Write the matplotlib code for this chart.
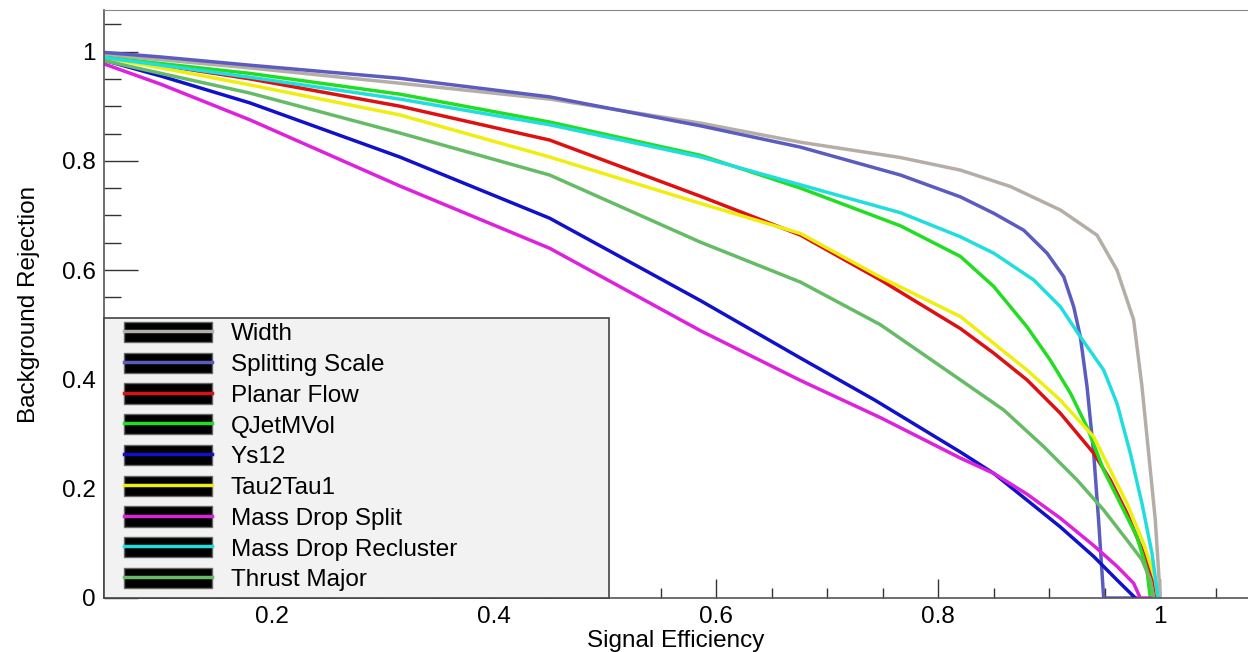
import matplotlib
matplotlib.use("Agg")
import matplotlib.pyplot as plt
from matplotlib.lines import Line2D
from matplotlib.patches import Rectangle
from matplotlib.ticker import MultipleLocator, FormatStrFormatter

plt.rcParams["font.family"] = ["Liberation Sans", "DejaVu Sans"]

# ROC curves: (signal efficiency, background rejection)
width_x = [0.045, 0.1, 0.18, 0.315, 0.45, 0.586, 0.676, 0.766, 0.82, 0.865, 0.91, 0.943, 0.961, 0.976, 0.9835, 0.9895, 0.9955, 1.0]
width_y = [0.995, 0.985, 0.970, 0.942, 0.913, 0.869, 0.834, 0.806, 0.783, 0.753, 0.710, 0.664, 0.600, 0.509, 0.387, 0.265, 0.143, 0.0]

split_x = [0.045, 0.1, 0.18, 0.315, 0.45, 0.586, 0.676, 0.766, 0.82, 0.85, 0.877, 0.898, 0.913, 0.922, 0.928, 0.934, 0.94, 0.9444, 0.949, 0.979]
split_y = [0.999, 0.99, 0.975, 0.951, 0.917, 0.864, 0.825, 0.774, 0.734, 0.704, 0.673, 0.631, 0.588, 0.533, 0.478, 0.387, 0.265, 0.143, 0.0, 0.0]

planar_x = [0.045, 0.1, 0.18, 0.315, 0.45, 0.586, 0.676, 0.748, 0.82, 0.85, 0.88, 0.91, 0.94, 0.955, 0.97, 0.985, 0.994, 0.997]
planar_y = [0.99, 0.975, 0.95, 0.90, 0.838, 0.735, 0.664, 0.582, 0.493, 0.448, 0.399, 0.338, 0.265, 0.216, 0.155, 0.082, 0.033, 0.0]

qjet_x = [0.045, 0.1, 0.18, 0.315, 0.45, 0.586, 0.676, 0.766, 0.82, 0.85, 0.88, 0.901, 0.919, 0.934, 0.949, 0.964, 0.979, 0.988, 0.991]
qjet_y = [0.99, 0.978, 0.96, 0.922, 0.871, 0.810, 0.750, 0.681, 0.625, 0.570, 0.496, 0.435, 0.375, 0.313, 0.234, 0.173, 0.112, 0.051, 0.0]

ys12_x = [0.045, 0.1, 0.18, 0.315, 0.45, 0.586, 0.676, 0.743, 0.82, 0.85, 0.88, 0.91, 0.94, 0.961, 0.9775]
ys12_y = [0.986, 0.955, 0.906, 0.807, 0.695, 0.544, 0.439, 0.362, 0.267, 0.228, 0.179, 0.130, 0.076, 0.033, 0.0]

tau_x = [0.045, 0.1, 0.18, 0.315, 0.45, 0.586, 0.676, 0.748, 0.82, 0.85, 0.88, 0.91, 0.94, 0.955, 0.97, 0.985, 0.9955, 0.998]
tau_y = [0.99, 0.97, 0.939, 0.884, 0.807, 0.722, 0.667, 0.587, 0.515, 0.466, 0.417, 0.362, 0.295, 0.234, 0.173, 0.100, 0.033, 0.0]

mds_x = [0.045, 0.1, 0.18, 0.315, 0.45, 0.586, 0.676, 0.748, 0.82, 0.85, 0.88, 0.91, 0.94, 0.961, 0.976, 0.982, 0.998]
mds_y = [0.98, 0.94, 0.875, 0.754, 0.640, 0.489, 0.398, 0.330, 0.256, 0.228, 0.190, 0.146, 0.096, 0.058, 0.027, 0.0, 0.0]

mdr_x = [0.045, 0.1, 0.18, 0.315, 0.45, 0.586, 0.676, 0.766, 0.82, 0.85, 0.886, 0.91, 0.928, 0.949, 0.961, 0.973, 0.9835, 0.9925, 0.998]
mdr_y = [0.99, 0.975, 0.953, 0.913, 0.866, 0.807, 0.756, 0.705, 0.661, 0.631, 0.582, 0.533, 0.478, 0.417, 0.356, 0.265, 0.173, 0.082, 0.0]

thrust_x = [0.045, 0.1, 0.18, 0.315, 0.45, 0.586, 0.676, 0.748, 0.82, 0.859, 0.895, 0.925, 0.949, 0.97, 0.9835, 0.991, 0.994]
thrust_y = [0.985, 0.96, 0.924, 0.851, 0.774, 0.651, 0.578, 0.50, 0.399, 0.344, 0.277, 0.216, 0.161, 0.106, 0.070, 0.033, 0.0]

names = ["Width", "Splitting Scale", "Planar Flow", "QJetMVol", "Ys12",
         "Tau2Tau1", "Mass Drop Split", "Mass Drop Recluster", "Thrust Major"]
colors = ["#b5aea6", "#5b5bc0", "#dd1111", "#22dd22", "#1111cc",
          "#eeee11", "#dd22dd", "#22dddd", "#66bb66"]
curves = [(width_x, width_y), (split_x, split_y), (planar_x, planar_y),
          (qjet_x, qjet_y), (ys12_x, ys12_y), (tau_x, tau_y),
          (mds_x, mds_y), (mdr_x, mdr_y), (thrust_x, thrust_y)]

fig = plt.figure(figsize=(12.48, 6.52), dpi=100)
ax = fig.add_axes([104 / 1248, 1 - 598 / 652, 1144 / 1248, 588 / 652])

for (xs, ys), c in zip(curves, colors):
    ax.plot(xs, ys, color=c, lw=2.5)

ax.set_xlim(0.0486, 1.079)
ax.set_ylim(0, 1.076)

ax.xaxis.set_major_locator(MultipleLocator(0.2))
ax.xaxis.set_minor_locator(MultipleLocator(0.05))
ax.yaxis.set_major_locator(MultipleLocator(0.2))
ax.yaxis.set_minor_locator(MultipleLocator(0.05))
ax.xaxis.set_major_formatter(FormatStrFormatter("%g"))
ax.yaxis.set_major_formatter(FormatStrFormatter("%g"))

ax.tick_params(axis="both", which="both", direction="in", labelsize=17.5, pad=6,
               color="#333333", top=False, right=False)
ax.tick_params(axis="x", which="major", length=14, width=1)
ax.tick_params(axis="x", which="minor", length=7, width=1)
ax.tick_params(axis="y", which="major", length=24.5, width=1)
ax.tick_params(axis="y", which="minor", length=12, width=1)

for s in ["left", "bottom"]:
    ax.spines[s].set_color("#555555")
    ax.spines[s].set_linewidth(1.2)
ax.spines["top"].set_color("#888888")
ax.spines["right"].set_visible(False)

ax.set_xlabel("Signal Efficiency", fontsize=17.5, labelpad=1)
ax.set_ylabel("Background Rejection", fontsize=17.5, labelpad=16)

# legend frame
ax.add_patch(Rectangle((0, 0), (609 - 104) / 1144, (598 - 318) / 588,
                       transform=ax.transAxes, facecolor="#f2f2f2",
                       edgecolor="#444444", lw=1.2, zorder=4, clip_on=False))

handles = [(Rectangle((0, 0), 1, 1, facecolor="black", edgecolor="#666666"),
            Line2D([], [], color=c, lw=2.5)) for c in colors]
leg = ax.legend(handles, names, loc="upper left",
                bbox_to_anchor=(15 / 1144, (598 - 317) / 588),
                frameon=False, fontsize=17.5, handlelength=3.62, handleheight=0.9,
                handletextpad=0.78, labelspacing=0.3, borderpad=0.2, borderaxespad=0)
leg.set_zorder(5)

fig.savefig("out.png", dpi=100)
